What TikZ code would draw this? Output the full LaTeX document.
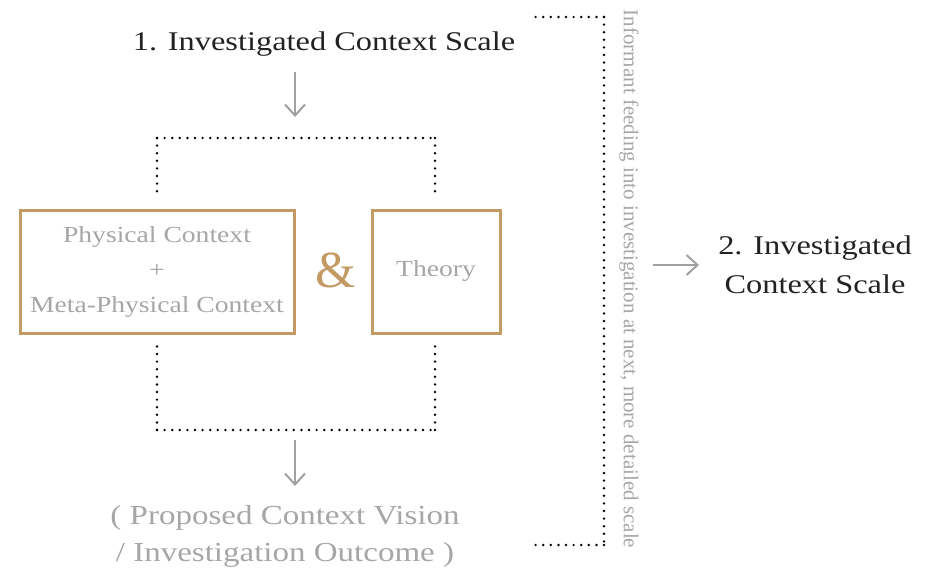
\documentclass[tikz,border=0pt]{standalone}
\usepackage{fontspec}
\setmainfont{Liberation Serif}[FakeStretch=1.2]
\newfontfamily\plainserif{Liberation Serif}
\usetikzlibrary{arrows.meta}
\definecolor{goldc}{HTML}{C39A63}
\definecolor{txtgray}{HTML}{A6A6A6}
\definecolor{arrgray}{HTML}{A0A0A0}
\definecolor{darktxt}{HTML}{222222}
\begin{document}
\begin{tikzpicture}[x=1pt,y=-1pt,
  dots/.style={draw=black, line width=2.7pt, line cap=round, dash pattern=on 0pt off 7.6pt},
  goldbox/.style={draw=goldc, line width=3pt, inner sep=0pt, align=center},
  flow/.style={draw=arrgray, line width=2pt, -{Straight Barb[length=11pt,width=20pt]}},
  titletxt/.style={text=darktxt, font=\fontsize{27}{39}\selectfont, align=center},
  boxtxt/.style={text=txtgray, font=\fontsize{23}{35}\selectfont},
  outtxt/.style={text=txtgray, font=\fontsize{27.5}{37}\selectfont, align=center}
]
\useasboundingbox (0,0) rectangle (933,572);

\node[titletxt] (t1) at (324,44) {1. Investigated Context Scale};

\node[goldbox, boxtxt, minimum width=274pt, minimum height=123pt] (pc) at (157,271.5)
  {Physical Context\\+\\Meta-Physical Context};
\node[goldbox, boxtxt, minimum width=128pt, minimum height=123pt] (th) at (436,271.5) {Theory};
\node[text=goldc, font=\plainserif\fontsize{52}{52}\selectfont] (amp) at (336,270) {\&};

% dotted brackets (each side drawn from its corner so corners carry a dot)
\coordinate (tcl) at (157,138);
\coordinate (tcr) at (435,138);
\coordinate (tbl) at (157,197);
\coordinate (tbr) at (435,197);
\draw[dots] (tcl) -- (tbl);
\draw[dots] (tcl) -- (tcr);
\draw[dots] (tcr) -- (tbr);
\coordinate (bcl) at (157,430);
\coordinate (bcr) at (435,430);
\coordinate (bbl) at (157,345);
\coordinate (bbr) at (435,345);
\draw[dots] (bcl) -- (bbl);
\draw[dots] (bcl) -- (bcr);
\draw[dots] (bcr) -- (bbr);

% arrows
\coordinate (a1s) at (295,72);
\coordinate (a1e) at (295,117);
\draw[flow] (a1s) -- (a1e);
\coordinate (a2s) at (295,440);
\coordinate (a2e) at (295,486);
\draw[flow] (a2s) -- (a2e);

\node[outtxt] (out) at (285,536) {( Proposed Context Vision\\/ Investigation Outcome )};

% right bracket
\coordinate (rc1) at (604,17);
\coordinate (rc2) at (604,545);
\coordinate (rb1) at (530,17);
\coordinate (rb2) at (530,545);
\draw[dots] (rc1) -- (rb1);
\draw[dots] (rc1) -- (rc2);
\draw[dots] (rc2) -- (rb2);

\node[rotate=-90, text=txtgray, font=\plainserif\fontsize{21}{21}\selectfont] (vt) at (629,279)
  {Informant feeding into investigation at next, more detailed scale};

\coordinate (a3s) at (653,265);
\coordinate (a3e) at (699,265);
\draw[flow] (a3s) -- (a3e);

\node[titletxt] (t2) at (815,265) {2. Investigated\\Context Scale};
\end{tikzpicture}
\end{document}
